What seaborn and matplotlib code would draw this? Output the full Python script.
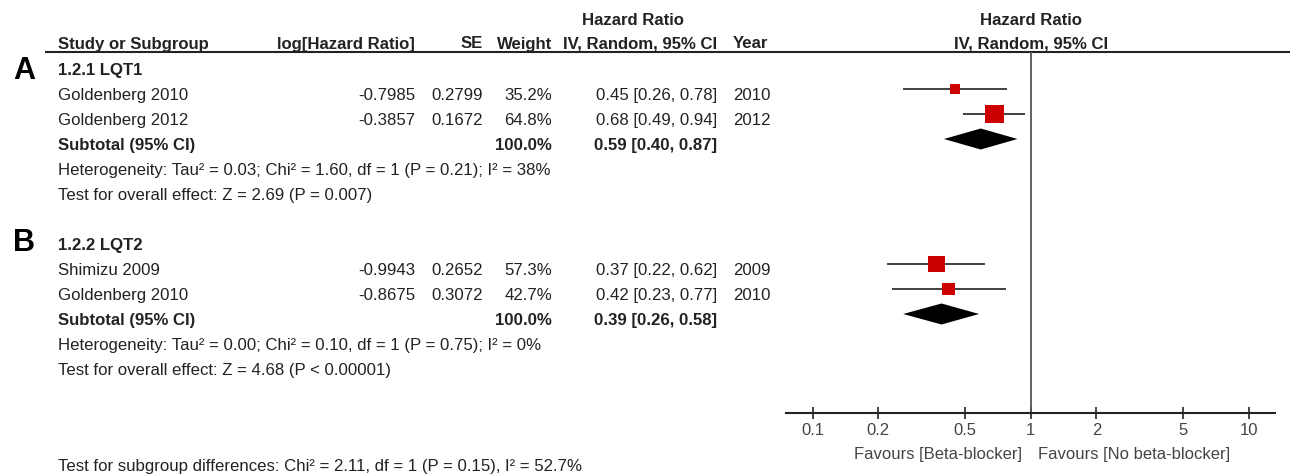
import numpy as np
import pandas as pd
import matplotlib
matplotlib.use("Agg")
import matplotlib.pyplot as plt
import seaborn as sns

# ---------------- data ----------------
group_titles = ["1.2.1 LQT1", "1.2.2 LQT2"]
panel_letters = ["A", "B"]
study_names = ["Goldenberg 2010", "Goldenberg 2012", "Shimizu 2009", "Goldenberg 2010"]
study_group = [0, 0, 1, 1]
log_hr = [-0.7985, -0.3857, -0.9943, -0.8675]
se = [0.2799, 0.1672, 0.2652, 0.3072]
weight = [35.2, 64.8, 57.3, 42.7]
hr = [0.45, 0.68, 0.37, 0.42]
hr_lo = [0.26, 0.49, 0.22, 0.23]
hr_hi = [0.78, 0.94, 0.62, 0.77]
years = [2010, 2012, 2009, 2010]
sub_weight = [100.0, 100.0]
sub_hr = [0.59, 0.39]
sub_lo = [0.40, 0.26]
sub_hi = [0.87, 0.58]
heterogeneity = ["Heterogeneity: Tau\u00b2 = 0.03; Chi\u00b2 = 1.60, df = 1 (P = 0.21); I\u00b2 = 38%",
                 "Heterogeneity: Tau\u00b2 = 0.00; Chi\u00b2 = 0.10, df = 1 (P = 0.75); I\u00b2 = 0%"]
overall = ["Test for overall effect: Z = 2.69 (P = 0.007)",
           "Test for overall effect: Z = 4.68 (P < 0.00001)"]
subgroup_test = "Test for subgroup differences: Chi\u00b2 = 2.11, df = 1 (P = 0.15), I\u00b2 = 52.7%"
tick_values = [0.1, 0.2, 0.5, 1, 2, 5, 10]
tick_labels = ["0.1", "0.2", "0.5", "1", "2", "5", "10"]
favours_left = "Favours [Beta-blocker]"
favours_right = "Favours [No beta-blocker]"

# ---------------- style ----------------
sns.set_theme(style="white")
plt.rcParams['font.family'] = ['Liberation Sans', 'DejaVu Sans']

W, H = 1293, 475
fig = plt.figure(figsize=(W / 100, H / 100), dpi=100)
TXT = "#222222"
GREY = "#444444"
FS = 12.1

ax_t = fig.add_axes([0, 0, 1, 1])
ax_t.set_xlim(0, W)
ax_t.set_ylim(H, 0)
ax_t.axis("off")


def base_y(r):
    # baseline of text row r (pixels from top)
    return 50 + 25 * r


def put(x, y, s, ha="left", bold=False, fs=FS, color=TXT):
    ax_t.text(x, y, s, ha=ha, va="baseline", fontsize=fs,
              fontweight="bold" if bold else "normal", color=color)


# Column anchors (pixels)
X_STUDY = 58
X_LOG = 415
X_SE = 483
X_WT = 552
X_CI = 717
X_YEAR = 733
X_PLOT = 1030.7

# headers
put(633, 25, "Hazard Ratio", ha="center", bold=True)
put(X_PLOT, 25, "Hazard Ratio", ha="center", bold=True)
hy = 48.5
put(X_STUDY, hy, "Study or Subgroup", bold=True)
put(X_LOG, hy, "log[Hazard Ratio]", ha="right", bold=True)
put(X_SE, hy, "SE", ha="right", bold=True)
put(X_WT, hy, "Weight", ha="right", bold=True)
put(X_CI, hy, "IV, Random, 95% CI", ha="right", bold=True)
put(X_YEAR, hy, "Year", bold=True)
put(X_PLOT, hy, "IV, Random, 95% CI", ha="center", bold=True)
ax_t.plot([45, 1290], [52, 52], color=TXT, lw=1.5, solid_capstyle="butt")

# rows
group_start = [1, 8]
letter_base = [79, 251]
study_rows = []
sub_rows = []
for g in range(2):
    r0 = group_start[g]
    put(X_STUDY, base_y(r0), group_titles[g], bold=True)
    ax_t.text(24, letter_base[g], panel_letters[g], ha="center", va="baseline",
              fontsize=22, fontweight="bold", color="black")
    idx = [i for i in range(len(study_names)) if study_group[i] == g]
    for k, i in enumerate(idx):
        r = r0 + 1 + k
        y = base_y(r)
        study_rows.append(r)
        put(X_STUDY, y, study_names[i])
        put(X_LOG, y, f"{log_hr[i]:.4f}", ha="right")
        put(X_SE, y, f"{se[i]:.4f}", ha="right")
        put(X_WT, y, f"{weight[i]:.1f}%", ha="right")
        put(X_CI, y, f"{hr[i]:.2f} [{hr_lo[i]:.2f}, {hr_hi[i]:.2f}]", ha="right")
        put(X_YEAR, y, f"{years[i]}")
    rs = r0 + 1 + len(idx)
    sub_rows.append(rs)
    y = base_y(rs)
    put(X_STUDY, y, "Subtotal (95% CI)", bold=True)
    put(X_WT, y, f"{sub_weight[g]:.1f}%", ha="right", bold=True)
    put(X_CI, y, f"{sub_hr[g]:.2f} [{sub_lo[g]:.2f}, {sub_hi[g]:.2f}]", ha="right", bold=True)
    put(X_STUDY, base_y(rs + 1), heterogeneity[g])
    put(X_STUDY, base_y(rs + 2), overall[g])

put(X_STUDY, 471, subgroup_test)

# favours labels
put(1022, 459.5, favours_left, ha="right", fs=12, color=GREY)
put(1038, 459.5, favours_right, fs=12, color=GREY)

# ---------------- forest axes ----------------
AX_L, AX_R, AX_TOP, AX_BOT = 786, 1275, 52, 413
DEC = 218.0
ax_f = fig.add_axes([AX_L / W, 1 - AX_BOT / H, (AX_R - AX_L) / W, (AX_BOT - AX_TOP) / H])
ax_f.set_xscale("log")
ax_f.set_xlim(10 ** ((AX_L - X_PLOT) / DEC), 10 ** ((AX_R - X_PLOT) / DEC))
ax_f.set_ylim(AX_BOT, AX_TOP)
ax_f.patch.set_alpha(0)

OFF = -11  # marks sit a little above the text baseline
df = pd.DataFrame({"hr": hr, "lo": hr_lo, "hi": hr_hi, "weight": weight,
                   "y": [base_y(r) + OFF for r in study_rows]})
ax_f.axvline(1, color="#555555", lw=1.3, zorder=1)
ax_f.hlines(df["y"], df["lo"], df["hi"], color="#333333", lw=1.3, zorder=2)
side_pt = 0.72 * 0.29 * np.asarray(weight)
sns.scatterplot(data=df, x="hr", y="y", marker="s", s=side_pt ** 2, color="#cc0000",
                linewidth=0, legend=False, ax=ax_f, zorder=3)

for g in range(2):
    yc = base_y(sub_rows[g]) + OFF
    h = 10.5
    ax_f.fill([sub_lo[g], sub_hr[g], sub_hi[g], sub_hr[g]], [yc, yc - h, yc, yc + h],
              color="black", lw=0, zorder=3)

for s in ["top", "left", "right"]:
    ax_f.spines[s].set_visible(False)
ax_f.spines["bottom"].set_color(TXT)
ax_f.spines["bottom"].set_linewidth(1.5)
ax_f.set_yticks([])
ax_f.set_xticks(tick_values)
ax_f.set_xticklabels(tick_labels)
ax_f.xaxis.set_minor_locator(matplotlib.ticker.NullLocator())
ax_f.tick_params(axis="x", direction="inout", length=8, width=1.2, colors=TXT,
                 labelcolor=GREY, labelsize=12, pad=3, bottom=True)
ax_f.set_xlabel("")
ax_f.set_ylabel("")
ax_f.grid(False)

fig.savefig("out.png", dpi=100)
